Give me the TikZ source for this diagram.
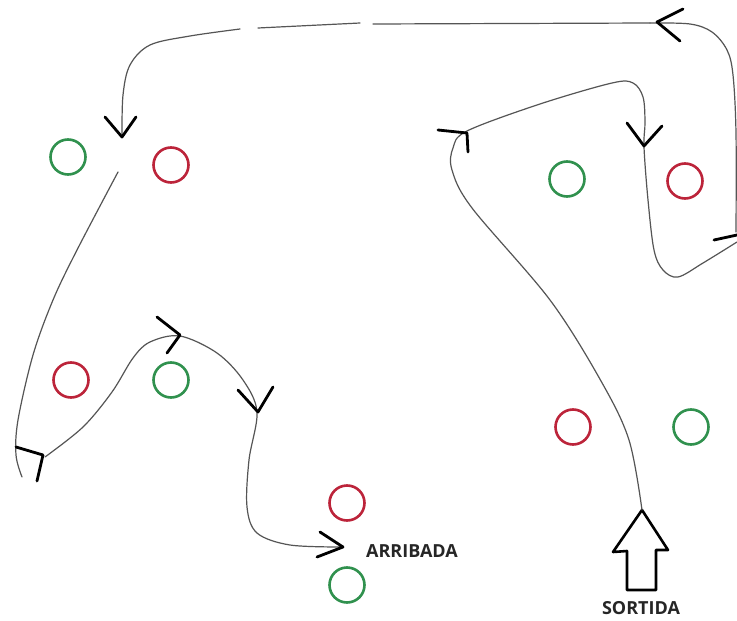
\documentclass[tikz,border=0pt]{standalone}
\usepackage{fontspec}
\setmainfont{Open Sans}
\definecolor{ringgreen}{RGB}{48,145,78}
\definecolor{ringred}{RGB}{188,36,58}
\definecolor{routegray}{RGB}{85,85,85}
\begin{document}
\begin{tikzpicture}[x=1pt,y=-1pt,
  ring/.style={draw,circle,line width=2.6pt,minimum size=35pt,inner sep=0pt},
  gring/.style={ring,draw=ringgreen},
  rring/.style={ring,draw=ringred},
  route/.style={draw=routegray,line width=1.2pt,line cap=round},
  tip/.style={draw=black,line width=2.8pt,line cap=round,line join=round},
  lbl/.style={font=\fontsize{18}{20}\selectfont\bfseries,text=black!85,inner sep=0pt}]
\useasboundingbox[fill=white] (0,0) rectangle (737,621);

% rings
\node[gring] (g1) at (68,157) {};
\node[rring] (r1) at (171,165) {};
\node[gring] (g2) at (567,179) {};
\node[rring] (r2) at (685,181) {};
\node[rring] (r3) at (71,380) {};
\node[gring] (g3) at (171,380) {};
\node[rring] (r5) at (573,427) {};
\node[gring] (g5) at (691,427) {};
\node[rring] (r4) at (347,503) {};
\node[gring] (g4) at (347,585) {};

% labels
\node[lbl] (arr) at (412,551) {ARRIBADA};
\node[lbl] (sor) at (641,608) {SORTIDA};

% start arrow (outline)
\coordinate (sTip) at (642,510);
\draw[tip,line width=2.6pt] (sTip) -- (668,550) -- (656,550) -- (656,590) -- (627,590) -- (627,551) -- (613,552) -- cycle;

% route: start -> loop on the right
\draw[route] plot[smooth,tension=0.55] coordinates {(sTip) (629,440) (601,381) (550,300) (472,208) (452,170) (453,148) (467,131) (540,104) (612,83) (633,83) (643,97) (645,122) (644,147) (648,200) (654,250) (663,270) (678,277) (703,263) (737,242)};

% right edge and top
\draw[route] plot[smooth,tension=0.55] coordinates {(736,232) (736,133) (733,75) (727,50) (712,32) (690,24) (650,23)};
\draw[route] (650,23) -- (373,24);
\draw[route] (360,23) -- (258,28);
\draw[route] plot[smooth,tension=0.55] coordinates {(240,29) (190,36) (150,45) (130,65) (123,95) (122,137)};

% down the left side
\draw[route] plot[smooth,tension=0.55] coordinates {(118,172) (77,250) (53,300) (33,355) (18,420) (16,455) (22,477)};

% wave to arrival
\draw[route] plot[smooth,tension=0.55] coordinates {(45,457) (83,427) (112,392) (133,358) (150,342) (180,336) (217,353) (243,380) (257,412) (249,460) (247,507) (257,533) (290,545) (343,547)};

% arrowheads
\draw[tip] (105,117) -- (122,137) -- (136,117);
\draw[tip] (683,9) -- (657,22) -- (680,41);
\draw[tip] (438,130) -- (467,133) -- (468,152);
\draw[tip] (627,123) -- (644,146) -- (662,126);
\draw[tip] (714,240) -- (737,235);
\draw[tip] (16,447) -- (43,455) -- (37,481);
\draw[tip] (157,317) -- (180,335) -- (167,353);
\draw[tip] (238,390) -- (258,412) -- (273,387);
\draw[tip] (320,532) -- (343,547) -- (317,557);
\end{tikzpicture}
\end{document}
